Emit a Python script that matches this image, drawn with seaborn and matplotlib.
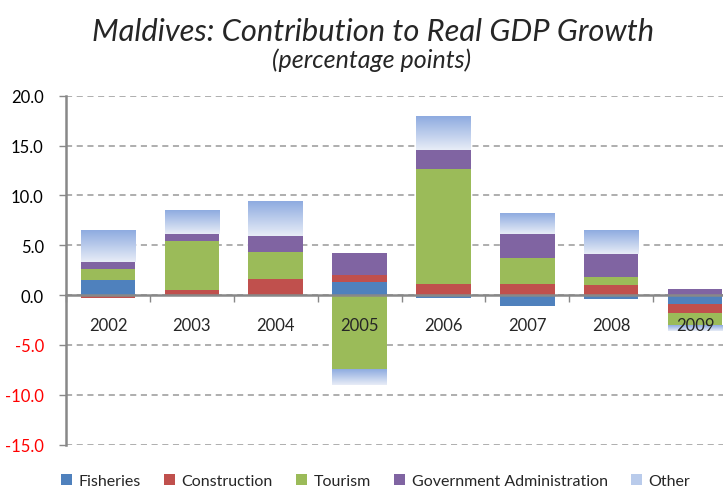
import numpy as np
import pandas as pd
import matplotlib
matplotlib.use("Agg")
import matplotlib.pyplot as plt
import seaborn as sns
from matplotlib.colors import LinearSegmentedColormap
from matplotlib.patches import Patch

years = ["2002", "2003", "2004", "2005", "2006", "2007", "2008", "2009"]
fisheries = [1.5, 0.0, 0.0, 1.3, -0.3, -1.1, -0.4, -0.9]
construction = [-0.3, 0.5, 1.6, 0.7, 1.1, 1.1, 1.0, -0.9]
tourism = [1.1, 4.9, 2.7, -7.4, 11.5, 2.6, 0.8, -1.2]
government = [0.7, 0.7, 1.6, 2.2, 2.0, 2.4, 2.3, 0.6]
other = [3.2, 2.4, 3.5, -1.6, 3.4, 2.1, 2.4, -0.6]
series_names = ["Fisheries", "Construction", "Tourism", "Government Administration", "Other"]
yticks = [20, 15, 10, 5, 0, -5, -10, -15]

colors = ["#4F81BD", "#C0504D", "#9BBB59", "#8064A2", "#B9CBEB"]

sns.set_theme(style="white")
plt.rcParams["font.family"] = ["Lato", "DejaVu Sans"]

fig = plt.figure(figsize=(7.23, 4.89), dpi=100)
ax = fig.add_axes([66/723, 1-445.7/489, (737-66)/723, (445.7-96.7)/489])

series = [fisheries, construction, tourism, government, other]
pos_base = np.zeros(len(years))
neg_base = np.zeros(len(years))
other_patches = []
for name, vals, col in zip(series_names, series, colors):
    vals = np.array(vals, dtype=float)
    bottoms = np.where(vals >= 0, pos_base, neg_base)
    df = pd.DataFrame({"year": years, "value": vals})
    n_before = len(ax.patches)
    sns.barplot(data=df, x="year", y="value", order=years, color=col,
                bottom=bottoms, width=0.65, saturation=1, ax=ax,
                linewidth=0, zorder=1, errorbar=None)
    if name == "Other":
        other_patches = ax.patches[n_before:]
    pos_base = np.where(vals >= 0, pos_base + vals, pos_base)
    neg_base = np.where(vals < 0, neg_base + vals, neg_base)

# gradient fill for "Other"
cmap = LinearSegmentedColormap.from_list("oth", ["#E8EDF7", "#8EABE0"])
grad = np.linspace(1, 0, 256).reshape(-1, 1)
for p in other_patches:
    x0 = p.get_x(); w = p.get_width()
    y0 = p.get_y(); h = p.get_height()
    lo, hi = min(y0, y0 + h), max(y0, y0 + h)
    if hi - lo <= 0:
        continue
    p.set_facecolor("none")
    im = ax.imshow(grad, extent=[x0, x0 + w, lo, hi], aspect="auto",
                   cmap=cmap, origin="upper", zorder=1, interpolation="bilinear")
    im.set_clip_path(p)

ax.set_xlim(-0.5, 7.5)
ax.set_ylim(-15, 20)
ax.set_yticks(yticks)
ax.set_yticklabels([f"{v:.1f}" for v in yticks], fontsize=12)
for lbl, v in zip(ax.get_yticklabels(), yticks):
    lbl.set_color("#FF0000" if v < 0 else "black")
ax.yaxis.grid(True, linestyle=(0, (4, 3)), color="#999999", linewidth=1.1)
ax.set_axisbelow(True)
ax.set_xlabel("")
ax.set_ylabel("")

for s in ["top", "right"]:
    ax.spines[s].set_visible(False)
ax.spines["left"].set_color("#888888")
ax.spines["left"].set_linewidth(1.8)
ax.spines["bottom"].set_position(("data", 0))
ax.spines["bottom"].set_color("#888888")
ax.spines["bottom"].set_linewidth(1.8)
ax.spines["bottom"].set_zorder(3)

ax.tick_params(axis="y", which="major", left=True, length=5, width=1, color="#888888", pad=11)
ax.set_xticks(range(len(years)))
ax.set_xticklabels([])
ax.tick_params(axis="x", which="major", bottom=False, length=0)
ax.set_xticks(np.arange(-0.5, 8, 1), minor=True)
ax.tick_params(axis="x", which="minor", bottom=True, length=5, width=1, color="#888888", direction="out")
for i, yr in enumerate(years):
    ax.text(i, -3.0, yr, ha="center", va="center", fontsize=12, zorder=6)

fig.text(373/723, 1-41/489, "Maldives: Contribution to Real GDP Growth",
         ha="center", va="baseline", fontsize=22.2, style="italic")
fig.text(372/723, 1-68/489, "(percentage points)",
         ha="center", va="baseline", fontsize=18, style="italic")

handles = [Patch(facecolor=c, edgecolor="none") for c in colors]
fig.legend(handles, series_names, loc="center", bbox_to_anchor=(375.5/723, 1-482/489),
           ncol=5, frameon=False, fontsize=11.5, handlelength=0.7, handleheight=0.7,
           handletextpad=0.4, columnspacing=1.45, borderaxespad=0, borderpad=0)

fig.savefig("out.png", dpi=100)
